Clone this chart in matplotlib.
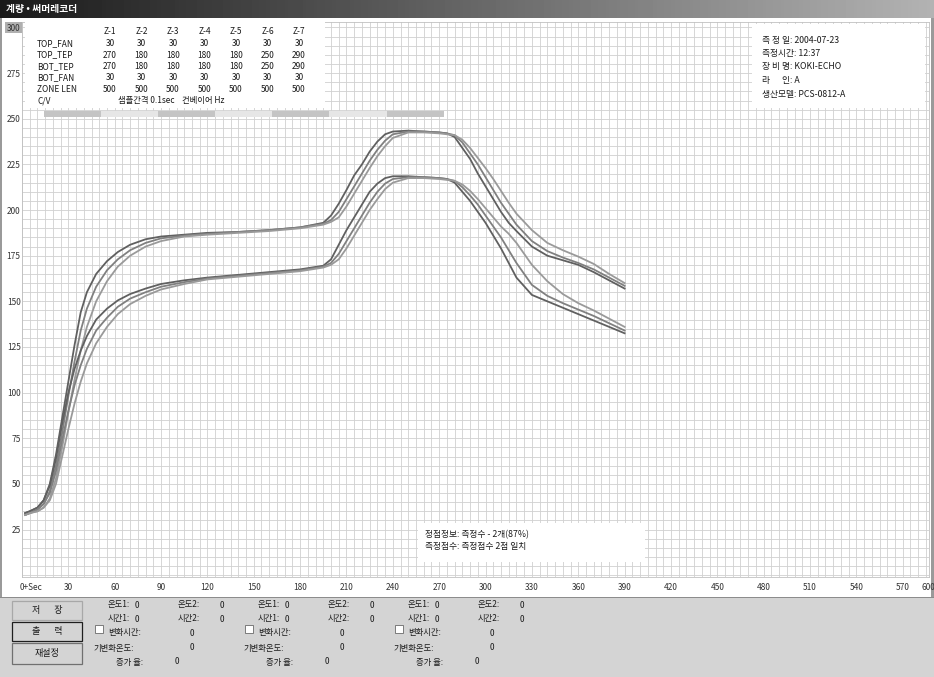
import numpy as np
import matplotlib
matplotlib.use('Agg')
import matplotlib.pyplot as plt
from matplotlib.patches import Rectangle
from matplotlib.transforms import Affine2D

plt.rcParams['font.family'] = ['Noto Sans CJK KR', 'DejaVu Sans']

W, H = 934, 677

# ---- profile data (sec, degC) ----
t = [2, 5, 10, 14, 18, 22, 26, 30, 34, 38, 42, 48, 55, 62, 70, 80, 90, 105, 120, 140,
     160, 180, 195, 200, 205, 210, 215, 220, 225, 230, 235, 240, 250, 260, 270, 275, 280, 285, 290, 295,
     300, 305, 310, 315, 320, 330, 340, 350, 360, 370, 380, 390]

top1 = [34, 35, 37, 41, 50, 66, 86, 106, 126, 144, 155, 165, 172, 177, 181, 184, 185.5, 186.5, 187.5, 188,
        189, 190.5, 193, 197, 203.5, 211, 219, 225, 232, 237.5, 241.5, 243, 243.5, 243, 242.5, 242, 240, 234, 228, 220,
        213, 206, 199, 193, 188.5, 180, 175, 172.5, 170, 166, 161.5, 157]
top2 = [33, 34, 36, 39, 46, 60, 78, 98, 117, 134, 146, 158, 167, 173, 178, 182, 184.5, 186, 187, 188,
        189, 190.5, 192.5, 194.5, 199, 206, 213, 220, 227, 233, 238, 241.5, 243, 243, 242.5, 242, 241, 237, 231, 225,
        218, 211, 204, 198, 192, 183, 177.5, 174, 171, 167.5, 163, 158.5]
top3 = [33, 34, 35, 37, 42, 53, 70, 89, 107, 123, 136, 150, 161, 169, 175, 180, 183, 185.5, 186.5, 187.5,
        188.5, 190, 192, 193.5, 196, 202, 209, 216, 223, 229.5, 235, 239.5, 242.5, 242.5, 242, 241.5, 241, 238.5, 234, 228.5,
        223, 217, 210.5, 204, 198, 189, 182, 178, 174.5, 170.5, 165, 160]

bot1 = [34, 35, 37, 41, 49, 64, 83, 100, 113, 123, 131, 140, 146, 150.5, 154, 157, 159.5, 161.5, 163, 164.5,
        166, 167.5, 169.5, 173, 181, 189, 196, 203, 210, 214.5, 217.5, 218.5, 218.5, 218, 217.5, 217, 215, 210, 205, 199,
        193, 186, 179, 171, 163, 153.5, 150, 146.5, 143, 139.5, 136, 132.5]
bot2 = [33, 34, 36, 39, 45, 57, 74, 90, 104, 115, 124, 134, 141, 147, 151.5, 155, 158, 160.5, 162.5, 164,
        165.5, 167, 169, 171, 176, 183, 190, 197, 204, 210, 214.5, 217, 218, 218, 217.5, 217, 216, 212.5, 208, 203,
        197, 191, 185, 178, 171, 159, 153, 149, 145.5, 142, 138, 134]
bot3 = [33, 34, 35, 37, 41, 50, 65, 80, 94, 106, 116, 127, 136, 143, 148.5, 153, 156.5, 159.5, 162, 163.5,
        165, 166.5, 168.5, 170, 173, 179, 186, 193, 200, 206, 211.5, 215, 217.5, 217.5, 217, 216.5, 216, 214, 210.5, 206,
        201, 196, 191, 187, 182, 170, 161, 154, 149, 145, 140.5, 136]

# zone markers (sec)
zone_edges = [14, 51, 88, 125, 162, 199, 236, 273]

# setting table
zones = ['Z-1', 'Z-2', 'Z-3', 'Z-4', 'Z-5', 'Z-6', 'Z-7']
row_names = ['TOP_FAN', 'TOP_TEP', 'BOT_TEP', 'BOT_FAN', 'ZONE LEN']
top_fan = [30, 30, 30, 30, 30, 30, 30]
top_tep = [270, 180, 180, 180, 180, 250, 290]
bot_tep = [270, 180, 180, 180, 180, 250, 290]
bot_fan = [30, 30, 30, 30, 30, 30, 30]
zone_len = [500, 500, 500, 500, 500, 500, 500]

info = ['측 정 일: 2004-07-23', '측정시간: 12:37', '장 비 명: KOKI-ECHO', '라      인: A', '생산모델: PCS-0812-A']

x_ticks = list(range(30, 571, 30))
y_ticks = list(range(25, 301, 25))

fig = plt.figure(figsize=(W / 100, H / 100), dpi=100)
fig.patch.set_facecolor('white')
PX = Affine2D().scale(1 / W, -1 / H).translate(0, 1) + fig.transFigure


def box(x, y, w, h, fc, ec='none', lw=0.8, z=1):
    fig.add_artist(Rectangle((x, y), w, h, transform=PX, fc=fc, ec=ec, lw=lw, zorder=z))


def txt(x, y, s, **kw):
    kw.setdefault('fontsize', 6)
    kw.setdefault('va', 'center')
    kw.setdefault('color', '#1a1a1a')
    fig.text(x, y, s, transform=PX, **kw)


# ---- main chart ----
ax = fig.add_axes([22 / W, 1 - 577 / H, 907 / W, 555 / H])
ax.set_xlim(0, 587)
ax.set_ylim(-1, 303)
ax.set_xticks(x_ticks)
ax.set_xticklabels([str(v) for v in x_ticks])
ax.set_xticks(np.arange(0, 590, 5), minor=True)
ax.set_yticks(y_ticks)
ax.set_yticklabels([str(v) for v in y_ticks])
ax.set_yticks(np.arange(0, 305, 5), minor=True)
ax.grid(which='both', color='#d0d0d0', lw=0.6)
ax.tick_params(which='both', length=0)
ax.tick_params(axis='x', labelsize=6, colors='#333333', pad=4)
ax.tick_params(axis='y', labelsize=6, colors='#333333', pad=1)
for s in ax.spines.values():
    s.set_color('#c0c0c0')
    s.set_linewidth(0.6)

for T, c in zip([top1, top2, top3], ['#606060', '#808080', '#9a9a9a']):
    ax.plot(t, T, color=c, lw=1.3, zorder=4)
for T, c in zip([bot1, bot2, bot3], ['#606060', '#808080', '#9a9a9a']):
    ax.plot(t, T, color=c, lw=1.3, zorder=4)

for i in range(len(zone_edges) - 1):
    ax.add_patch(Rectangle((zone_edges[i], 251), zone_edges[i + 1] - zone_edges[i], 3,
                           fc='#c4c4c4' if i % 2 == 0 else '#e6e6e6', ec='none', zorder=3))

txt(20, 588, '0+Sec', ha='left', color='#333333')
txt(921, 588, '600', ha='left', color='#333333')
box(5, 22, 17, 11, '#b0b0b0', z=-1)

# setting table
box(25, 22, 300, 86, 'white')
col_x = [110 + 31.5 * i for i in range(7)]
row_y = [43.5, 55, 66.5, 78, 89.5]
for x, z in zip(col_x, zones):
    txt(x, 32, z, ha='center')
for name, vals, y in zip(row_names, [top_fan, top_tep, bot_tep, bot_fan, zone_len], row_y):
    txt(37, y, name)
    for x, v in zip(col_x, vals):
        txt(x, y, str(v), ha='center')
txt(37, 101, 'C/V')
txt(118, 101, '샘플간격 0.1sec    컨베이어 Hz')

# info box
box(752, 24, 173, 84, 'white')
for i, s in enumerate(info):
    txt(762, 40 + 13.5 * i, s, fontsize=6.3)

# note box
box(418, 523, 227, 39, 'white')
txt(425, 535, '정점정보: 측정수 - 2개(87%)', fontsize=6.3)
txt(425, 547, '측정점수: 측정점수 2점 일치', fontsize=6.3)

# ---- window chrome ----
tb = fig.add_axes([0, 1 - 18 / H, 1, 18 / H])
tb.imshow(np.linspace(0.1, 0.7, 256)[None, :], cmap='gray', vmin=0, vmax=1,
          aspect='auto', extent=[0, 1, 0, 1])
tb.set_axis_off()
txt(6, 9, '계량 • 써머레코더', color='white', fontsize=7, fontweight='bold')

box(0, 18, 2, 579, '#9a9a9a')
box(931, 18, 3, 579, '#9a9a9a')

# bottom panel
box(0, 597, W, 80, '#d4d4d4', z=1)
box(0, 597, W, 1, '#8c8c8c', z=2)

buttons = [('저       장', 601, 19, '#a8a8a8'), ('출       력', 622, 19, '#1e1e1e'), ('재설정', 643, 21, '#707070')]
for label, y, h, ec in buttons:
    box(12, y, 70, h, '#d4d4d4', ec=ec, lw=0.9, z=2)
    txt(47, y + h / 2, label, ha='center', fontsize=6.5, zorder=3)

for dx in [0, 150, 300]:
    txt(108 + dx, 605, '온도1:', zorder=3)
    txt(135 + dx, 605, '0', zorder=3)
    txt(178 + dx, 605, '온도2:', zorder=3)
    txt(220 + dx, 605, '0', zorder=3)
    txt(108 + dx, 619, '시간1:', zorder=3)
    txt(135 + dx, 619, '0', zorder=3)
    txt(178 + dx, 619, '시간2:', zorder=3)
    txt(220 + dx, 619, '0', zorder=3)
    box(95 + dx, 625, 8, 8, 'white', ec='#6a6a6a', lw=0.6, z=2)
    txt(108 + dx, 633, '변화시간:', zorder=3)
    txt(190 + dx, 633, '0', zorder=3)
    txt(93 + dx, 648, '기변화온도:', zorder=3)
    txt(190 + dx, 648, '0', zorder=3)
    txt(116 + dx, 662, '증가 율:', zorder=3)
    txt(175 + dx, 662, '0', zorder=3)

fig.savefig('out.png', dpi=100)
